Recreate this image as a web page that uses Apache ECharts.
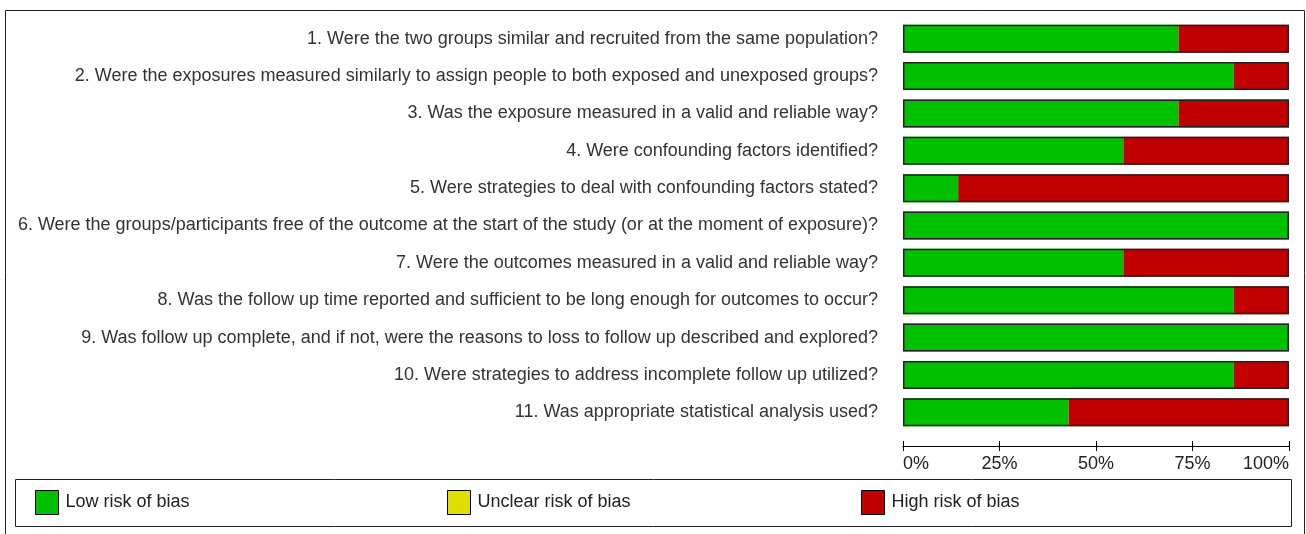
<!DOCTYPE html>
<html>
<head>
<meta charset="utf-8">
<script src="https://cdn.jsdelivr.net/npm/echarts@6/dist/echarts.min.js"></script>
<style>html,body{margin:0;padding:0;background:#fff;}#c{width:1306px;height:534px;}</style>
</head>
<body>
<div id="c"></div>
<script>
const categories = [
  "1. Were the two groups similar and recruited from the same population?",
  "2. Were the exposures measured similarly to assign people to both exposed and unexposed groups?",
  "3. Was the exposure measured in a valid and reliable way?",
  "4. Were confounding factors identified?",
  "5. Were strategies to deal with confounding factors stated?",
  "6. Were the groups/participants free of the outcome at the start of the study (or at the moment of exposure)?",
  "7. Were the outcomes measured in a valid and reliable way?",
  "8. Was the follow up time reported and sufficient to be long enough for outcomes to occur?",
  "9. Was follow up complete, and if not, were the reasons to loss to follow up described and explored?",
  "10. Were strategies to address incomplete follow up utilized?",
  "11. Was appropriate statistical analysis used?"
];
const lowRisk     = [71.4, 85.7, 71.4, 57.1, 14.3, 100, 57.1, 85.7, 100, 85.7, 42.9];
const unclearRisk = [0, 0, 0, 0, 0, 0, 0, 0, 0, 0, 0];
const highRisk    = [28.6, 14.3, 28.6, 42.9, 85.7, 0, 42.9, 14.3, 0, 14.3, 57.1];
const totals      = [100, 100, 100, 100, 100, 100, 100, 100, 100, 100, 100];
const tickValues  = [0, 25, 50, 75, 100];

const chart = echarts.init(document.getElementById('c'), null, {renderer: 'canvas'});
const font = 'Liberation Sans, Arial, sans-serif';
const legendBase = {
  top: 490, padding: 0, itemWidth: 23, itemHeight: 24, itemGap: 0, icon: 'rect',
  selectedMode: false,
  textStyle: {fontFamily: font, fontSize: 18, color: '#222', padding: [0, 0, 0, 2]},
  itemStyle: {borderColor: '#000', borderWidth: 1}
};
chart.setOption({
  animation: false,
  grid: {left: 903, right: 17, top: 20, bottom: 103, containLabel: false},
  xAxis: [{
    type: 'value', min: 0, max: 100, interval: 25, position: 'bottom', offset: 15,
    axisLine: {show: true, lineStyle: {color: '#000', width: 1}},
    axisTick: {show: true, length: 5, lineStyle: {color: '#000'}},
    splitLine: {show: false},
    axisLabel: {formatter: v => tickValues.includes(v) ? v + '%' : '', fontFamily: font, fontSize: 18, color: '#222', margin: 9,
      alignMinLabel: 'left', alignMaxLabel: 'right'}
  }, {
    type: 'value', min: 0, max: 100, interval: 25, position: 'bottom', offset: 15,
    axisLine: {show: false},
    axisTick: {show: true, inside: true, length: 5, lineStyle: {color: '#000'}},
    splitLine: {show: false}, axisLabel: {show: false}
  }],
  yAxis: {
    type: 'category', data: categories, inverse: true,
    axisLine: {show: false}, axisTick: {show: false},
    axisLabel: {fontFamily: font, fontSize: 18, color: '#333', margin: 25}
  },
  legend: [
    Object.assign({}, legendBase, {left: 35, data: ['Low risk of bias']}),
    Object.assign({}, legendBase, {left: 447, data: ['Unclear risk of bias']}),
    Object.assign({}, legendBase, {left: 861, data: ['High risk of bias']})
  ],
  graphic: [
    {type: 'polyline', shape: {points: [[5.5, 540], [5.5, 10.5], [1304.5, 10.5], [1304.5, 540]]},
      style: {fill: null, stroke: '#222', lineWidth: 1}, silent: true},
    {type: 'rect', shape: {x: 15.5, y: 479.5, width: 1276, height: 47},
      style: {fill: null, stroke: '#222', lineWidth: 1}, silent: true, z: -1}
  ],
  series: [
    {name: 'Low risk of bias', type: 'bar', stack: 's', data: lowRisk, barWidth: 28,
      itemStyle: {color: '#00C000'}},
    {name: 'Unclear risk of bias', type: 'bar', stack: 's', data: unclearRisk, barWidth: 28,
      itemStyle: {color: '#E0E000'}},
    {name: 'High risk of bias', type: 'bar', stack: 's', data: highRisk, barWidth: 28,
      itemStyle: {color: '#C00000'}},
    {name: 'frame', type: 'bar', data: totals, barWidth: 28, barGap: '-100%', z: 5, silent: true,
      itemStyle: {color: 'rgba(0,0,0,0)', borderColor: '#222', borderWidth: 1.5}}
  ]
});
</script>
</body>
</html>
